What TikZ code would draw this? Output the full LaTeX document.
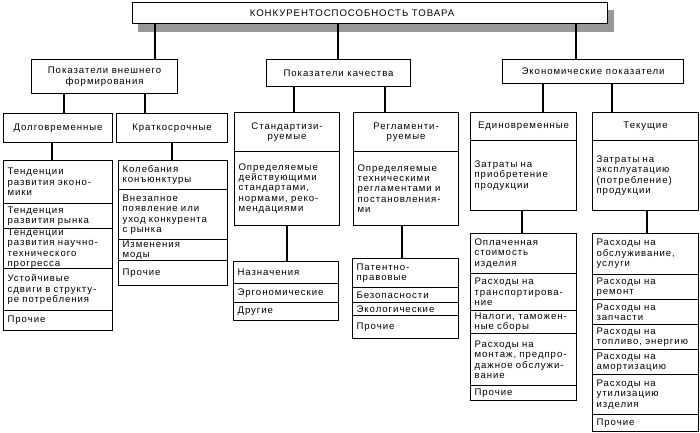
\documentclass[tikz,border=0pt]{standalone}
\usepackage{fontspec}
\setmainfont{Liberation Sans}[LetterSpace=10]
\usepackage{tikz}
\usetikzlibrary{backgrounds}

\tikzset{
  box/.style={draw, line width=1.1pt, fill=white, anchor=north west, inner sep=0pt,
    align=center, font=\fontsize{9.6}{10.4}\selectfont},
  item/.style={box, align=left, inner xsep=4pt},
  link/.style={draw, line width=1.2pt}
}

\begin{document}
\begin{tikzpicture}[x=1pt, y=-1pt]
\useasboundingbox (0,0) rectangle (700,432);

\node[box, minimum width=475pt, minimum height=21pt] (top) at (132,2) {\hspace*{-36pt}КОНКУРЕНТОСПОСОБНОСТЬ ТОВАРА};
\begin{scope}[on background layer]
\fill[black!40] ([xshift=6pt,yshift=-8pt]top.south west) rectangle ([xshift=6pt,yshift=-8pt]top.north east);
\end{scope}

\node[box, minimum width=146pt, minimum height=34pt] (ext) at (31,59) {Показатели внешнего\\формирования};
\node[box, minimum width=144pt, minimum height=27pt] (qual) at (266,59) {Показатели качества};
\node[box, minimum width=181pt, minimum height=24pt] (econ) at (502,59) {Экономические показатели};

\node[box, minimum width=109pt, minimum height=29pt] (long) at (3,113) {Долговременные};
\node[box, minimum width=111pt, minimum height=29pt] (short) at (116,113) {Краткосрочные};

\node[box, minimum width=105pt, minimum height=39pt] (std) at (234,112) {Стандартизи-\\руемые};
\node[item, text width=97pt, minimum height=74pt] (std-d) at (234,151) {Определяемые\\действующими\\стандартами,\\нормами, реко-\\мендациями};
\node[box, minimum width=105pt, minimum height=39pt] (reg) at (353,112) {Регламенти-\\руемые};
\node[item, text width=97pt, minimum height=74pt] (reg-d) at (353,151) {Определяемые\\техническими\\регламентами и\\постановления-\\ми};

\node[box, minimum width=106pt, minimum height=28pt] (one) at (470,112) {Единовременные};
\node[item, text width=98pt, minimum height=70pt] (one-d) at (470,140) {Затраты на\\приобретение\\продукции};
\node[box, minimum width=106pt, minimum height=28pt] (cur) at (592,112) {Текущие};
\node[item, text width=98pt, minimum height=70pt] (cur-d) at (592,140) {Затраты на\\эксплуатацию\\(потребление)\\продукции};

% lists
\foreach \txt/\ya/\yb [count=\i] in {
  {Тенденции\\развития эконо-\\мики}/160/203,
  {Тенденция\\развития рынка}/203/228,
  {Тенденции\\развития научно-\\технического\\прогресса}/228/268,
  {Устойчивые\\сдвиги в структу-\\ре потребления}/268/310,
  Прочие/310/330}
  \node[item, text width=101pt, minimum height={(\yb-\ya)*1pt}] (long-\i) at (3,\ya) {\txt};

\foreach \txt/\ya/\yb [count=\i] in {
  {Колебания\\конъюнктуры}/160/189,
  {Внезапное\\появление или\\уход конкурента\\с рынка}/189/239,
  {Изменения\\моды}/239/260,
  Прочие/260/285}
  \node[item, text width=101pt, minimum height={(\yb-\ya)*1pt}] (short-\i) at (118,\ya) {\txt};

\foreach \txt/\ya/\yb [count=\i] in {
  Назначения/261/283,
  Эргономические/283/302,
  Другие/302/320}
  \node[item, text width=97pt, minimum height={(\yb-\ya)*1pt}] (std-\i) at (233,\ya) {\txt};

\foreach \txt/\ya/\yb [count=\i] in {
  {Патентно-\\правовые}/258/287,
  Безопасности/287/302,
  Экологические/302/315,
  Прочие/315/338}
  \node[item, text width=98pt, minimum height={(\yb-\ya)*1pt}] (reg-\i) at (352,\ya) {\txt};

\foreach \txt/\ya/\yb [count=\i] in {
  {Оплаченная\\стоимость\\изделия}/233/273,
  {Расходы на\\транспортирова-\\ние}/273/310,
  {Налоги, таможен-\\ные сборы}/310/333,
  {Расходы на\\монтаж, предпро-\\дажное обслужи-\\вание}/333/385,
  Прочие/385/400}
  \node[item, text width=98pt, minimum height={(\yb-\ya)*1pt}] (one-\i) at (470,\ya) {\txt};

\foreach \txt/\ya/\yb [count=\i] in {
  {Расходы на\\обслуживание,\\услуги}/233/274,
  {Расходы на\\ремонт}/274/299,
  {Расходы на\\запчасти}/299/324,
  {Расходы на\\топливо, энергию}/324/349,
  {Расходы на\\амортизацию}/349/374,
  {Расходы на\\утилизацию\\изделия}/374/414,
  Прочие/414/431}
  \node[item, text width=98pt, minimum height={(\yb-\ya)*1pt}] (cur-\i) at (592,\ya) {\txt};

% connectors
\draw[link] ([xshift=124pt]ext.north west) coordinate (c) -- (c |- top.south);
\draw[link] ([xshift=72pt]qual.north west) coordinate (c) -- (c |- top.south);
\draw[link] ([xshift=74pt]econ.north west) coordinate (c) -- (c |- top.south);
\draw[link] ([xshift=61pt]long.north west) coordinate (c) -- (c |- ext.south);
\draw[link] ([xshift=29pt]short.north west) coordinate (c) -- (c |- ext.south);
\draw[link] ([xshift=60pt]std.north west) coordinate (c) -- (c |- qual.south);
\draw[link] ([xshift=32pt]reg.north west) coordinate (c) -- (c |- qual.south);
\draw[link] ([xshift=73pt]one.north west) coordinate (c) -- (c |- econ.south);
\draw[link] ([xshift=20pt]cur.north west) coordinate (c) -- (c |- econ.south);
\draw[link] ([xshift=49pt]long-1.north west) coordinate (c) -- (c |- long.south);
\draw[link] ([xshift=54pt]short-1.north west) coordinate (c) -- (c |- short.south);
\draw[link] ([xshift=54pt]std-1.north west) coordinate (c) -- (c |- std-d.south);
\draw[link] ([xshift=50pt]reg-1.north west) coordinate (c) -- (c |- reg-d.south);
\draw[link] ([xshift=52pt]one-1.north west) coordinate (c) -- (c |- one-d.south);
\draw[link] ([xshift=55pt]cur-1.north west) coordinate (c) -- (c |- cur-d.south);
\end{tikzpicture}
\end{document}
